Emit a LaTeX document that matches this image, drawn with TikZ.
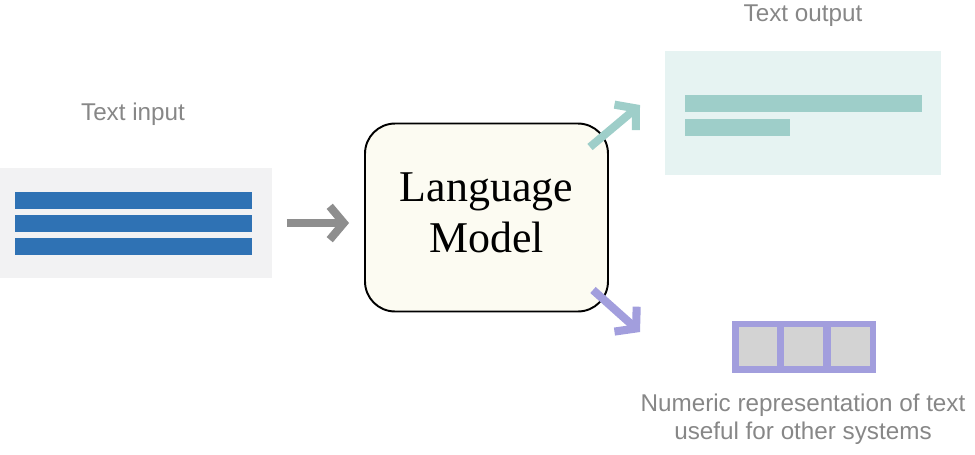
\documentclass[tikz,border=0pt]{standalone}
\usepackage{fontspec}
\usepackage{xcolor}
\usepackage{tikz}
\usetikzlibrary{arrows.meta,positioning}
\newfontfamily\labelfont{Liberation Sans}
\newfontfamily\modelfont{Liberation Serif}
\definecolor{inpanel}{HTML}{F2F2F3}
\definecolor{inblue}{HTML}{2F72B4}
\definecolor{arrgray}{HTML}{8E8E8E}
\definecolor{outpanel}{HTML}{E6F3F2}
\definecolor{outteal}{HTML}{9ECEC9}
\definecolor{vecpurple}{HTML}{A29EDD}
\definecolor{vecgray}{HTML}{D3D3D3}
\definecolor{lmfill}{HTML}{FCFBF2}
\definecolor{labgray}{HTML}{878787}
\tikzset{
  panel/.style={inner sep=0pt, outer sep=0pt},
  bar/.style={inner sep=0pt, outer sep=0pt, minimum height=0.34cm},
  lmbox/.style={draw=black, line width=1.1pt, rounded corners=0.6cm, fill=lmfill, minimum width=4.86cm, minimum height=3.76cm, text depth=0.2cm, align=center, font=\modelfont\fontsize{25}{29}\selectfont},
  cell/.style={fill=vecgray, inner sep=0pt, minimum size=0.78cm},
  caption/.style={text=labgray, align=center, font=\labelfont\fontsize{13.8}{16}\selectfont},
  flow/.style={line width=4.6pt, -{Straight Barb[length=8pt, width=19pt]}}
}
\begin{document}
\begin{tikzpicture}[x=0.02cm, y=-0.02cm]
    \useasboundingbox (0,0) rectangle (975,454);

    % input side
    \node[panel, fill=inpanel, minimum width=5.44cm, minimum height=2.2cm] (inp) at (136,223) {};
    \node[bar, fill=inblue, minimum width=4.74cm] (inbar1) at (133.5,200.5) {};
    \node[bar, fill=inblue, minimum width=4.74cm] (inbar2) at (133.5,223.5) {};
    \node[bar, fill=inblue, minimum width=4.74cm] (inbar3) at (133.5,246.5) {};
    \node[caption] (inlabel) at (133,114) {Text input};

    % model
    \node[lmbox] (lm) at (486.5,217.5) {Language\\Model};

    % text output
    \node[panel, fill=outpanel, minimum width=5.52cm, minimum height=2.48cm] (outp) at (803,113) {};
    \node[bar, fill=outteal, minimum width=4.74cm] (outbar1) at (803.5,103.5) {};
    \node[bar, fill=outteal, minimum width=2.1cm] (outbar2) at (737.5,127.5) {};
    \node[caption] (outlabel) at (803,16) {Text output};

    % numeric output
    \node[panel, fill=vecpurple, minimum width=2.88cm, minimum height=1.04cm] (vec) at (804,347) {};
    \node[cell] (cell1) at (758,346.5) {};
    \node[cell] (cell2) at (803.5,346.5) {};
    \node[cell] (cell3) at (850,346.5) {};
    \node[caption] (veclabel) at (803,419) {Numeric representation of text\\useful for other systems};

    \coordinate (grayfrom) at (inp.east);
    \coordinate (tealfrom) at (590,147);
    \coordinate (tealto) at (640,105);
    \coordinate (purpfrom) at (593,290);
    \coordinate (purpto) at (640,332);

    \draw[flow, arrgray, shorten <=0.3cm, shorten >=0.3cm] (grayfrom) -- (grayfrom -| lm.west);
    \draw[flow, outteal] (tealfrom) -- (tealto);
    \draw[flow, vecpurple] (purpfrom) -- (purpto);
\end{tikzpicture}
\end{document}
